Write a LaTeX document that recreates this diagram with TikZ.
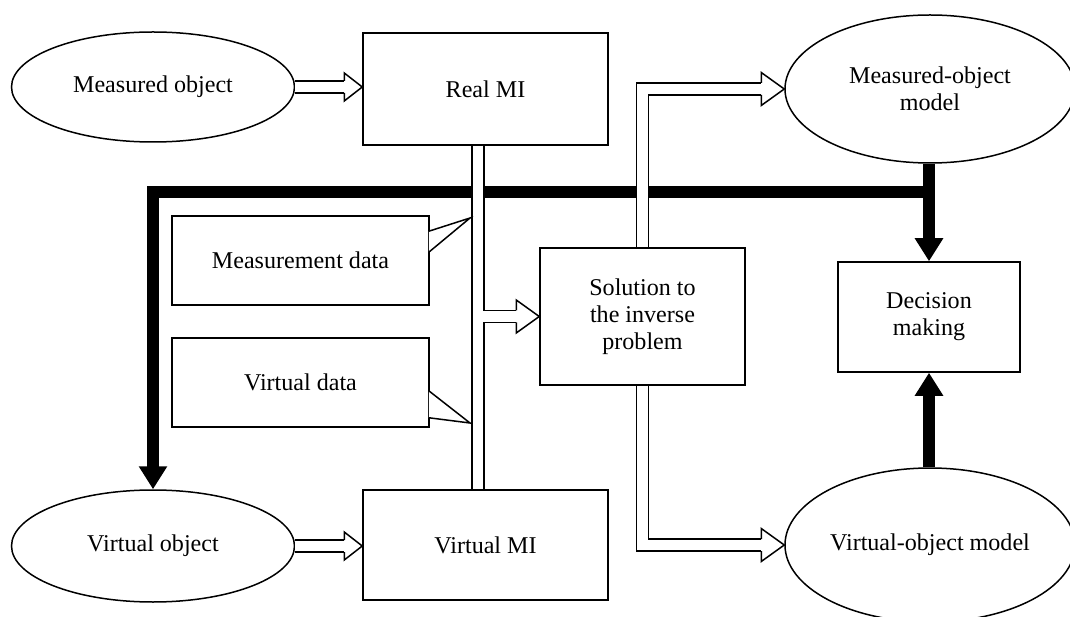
\documentclass[tikz,border=0pt]{standalone}
\usepackage{fontspec}
\setmainfont{Liberation Serif}
\usetikzlibrary{shapes,arrows.meta}

\tikzset{
  obj/.style={draw, ellipse, line width=0.3mm, inner sep=0pt, align=center},
  blk/.style={draw, rectangle, line width=0.3mm, fill=white, align=center},
  note/.style={draw, rectangle, line width=0.3mm, minimum width=51.4mm, minimum height=17.8mm},
  hollow/.style={double, double distance=2.1mm, line width=0.3mm},
  heavy/.style={line width=2.4mm, -{Triangle[width=5.4mm,length=4.6mm]}},
  bighead/.pic={\draw[fill=white, line width=0.3mm] (-4.6,1.2) -- (-4.6,3.3) -- (0,0) -- (-4.6,-3.3) -- (-4.6,-1.2);},
  smallhead/.pic={\draw[fill=white, line width=0.3mm] (-3.6,1.2) -- (-3.6,2.8) -- (0,0) -- (-3.6,-2.8) -- (-3.6,-1.2);}
}

\begin{document}
\begin{tikzpicture}[x=1mm, y=-1mm, font=\fontsize{13.7}{15.5}\selectfont]

    \useasboundingbox (0,0) rectangle (214,123.4);

    \draw(30.6,17.4) node[obj, minimum width=56.6mm, minimum height=22mm] (mo) {Measured object};
    \draw(30.6,109.2) node[obj, minimum width=56.6mm, minimum height=22.4mm] (vo) {Virtual object};
    \draw(97.1,17.8) node[blk, minimum width=49mm, minimum height=22.4mm] (rmi) {Real MI};
    \draw(97.1,109) node[blk, minimum width=49mm, minimum height=22mm] (vmi) {Virtual MI};
    \draw(128.5,63.3) node[blk, minimum width=41mm, minimum height=27.4mm] (sol) {Solution to\\the inverse\\problem};
    \draw(185.8,63.4) node[blk, minimum width=36.4mm, minimum height=22mm] (dm) {Decision\\making};
    \draw(186,17.8) node[obj, minimum width=58mm, minimum height=29.6mm] (mom) {Measured-object\\model};
    \draw(186,109) node[obj, minimum width=58mm, minimum height=30.8mm] (vom) {Virtual-object model};
    \draw(60.1,52.1) node[note] (md) {Measurement data};
    \draw(60.1,76.5) node[note] (vd) {Virtual data};

    \coordinate (bus) at (95.6,0);
    \coordinate (jn) at (185.8,38.4);
    \coordinate (mdtip) at (94,43.6);
    \coordinate (vdtip) at (94,84.6);

    % thick control lines
    \draw[heavy] (mom.south -| dm.north) -- (dm.north);
    \draw[heavy] (jn) -| (vo.north);
    \draw[heavy] (vom.north -| dm.south) -- (dm.south);

    % hollow data flows
    \coordinate (t1) at (mo.east -| rmi.west);
    \draw[hollow] (mo.east) -- ([xshift=-3.6mm]t1);
    \path (t1) pic {smallhead};

    \coordinate (t2) at (vo.east -| vmi.west);
    \draw[hollow] (vo.east) -- ([xshift=-3.6mm]t2);
    \path (t2) pic {smallhead};

    \coordinate (t3) at (sol.west);
    \draw[hollow] (rmi.south -| bus) -- (vmi.north -| bus) (sol.west -| bus) -- ([xshift=-4.6mm]t3);
    \path (t3) pic {bighead};

    \coordinate (t4) at (mom.west);
    \draw[hollow] (sol.north) |- ([xshift=-4.6mm]t4);
    \path (t4) pic {bighead};

    \coordinate (t5) at (vom.west);
    \draw[hollow] (sol.south) |- ([xshift=-4.6mm]t5);
    \path (t5) pic {bighead};

    % callout pointers
    \draw[line width=0.3mm, fill=white] ([xshift=-0.2mm, yshift=-3.2mm]md.north east) -- (mdtip) -- ([xshift=-0.2mm, yshift=-7.4mm]md.north east);
    \draw[line width=0.3mm, fill=white] ([xshift=-0.2mm, yshift=7.4mm]vd.south east) -- (vdtip) -- ([xshift=-0.2mm, yshift=2mm]vd.south east);

\end{tikzpicture}
\end{document}
